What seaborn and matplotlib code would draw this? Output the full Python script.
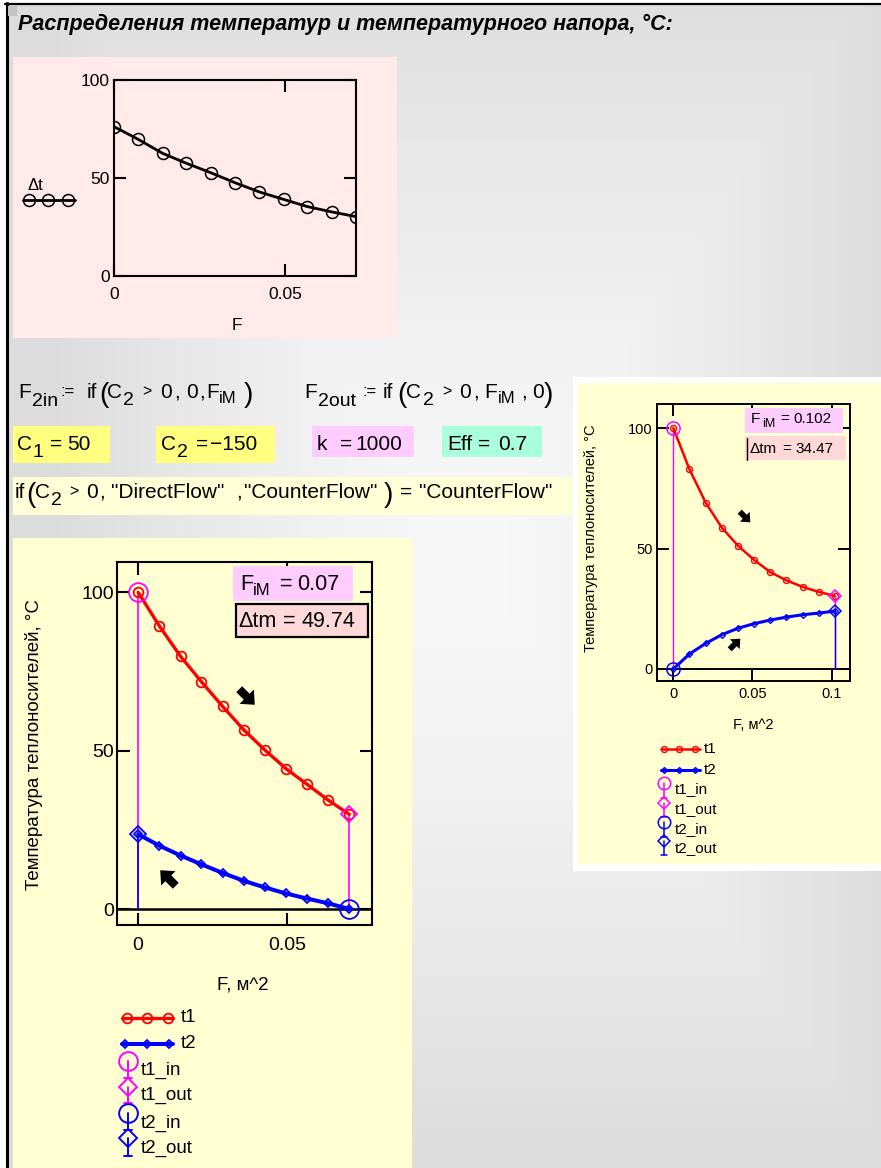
"""
Распределения температур и температурного напора - копия листа Mathcad.
Три графика: dt(F), противоток (основной) и прямоток (малый справа).
"""
import numpy as np
import matplotlib
matplotlib.use("Agg")
import matplotlib.pyplot as plt
from matplotlib.patches import Rectangle, Polygon
import seaborn as sns

W, H = 881, 1168

# ---------------- данные ----------------
F_top = [0, 0.0071, 0.0142, 0.0212, 0.0283, 0.0354, 0.0425, 0.0496, 0.0566, 0.0637, 0.0708]
dt_top = [76.2, 69.7, 62.6, 57.5, 52.7, 47.6, 42.9, 39.1, 35.4, 32.7, 30.3]

F_main = [0, 0.0071, 0.0142, 0.0212, 0.0283, 0.0354, 0.0425, 0.0496, 0.0566, 0.0637, 0.0708]
t1_main = [100, 89.4, 79.8, 71.8, 64.0, 56.6, 50.2, 44.3, 39.4, 34.4, 29.9]
t2_main = [23.6, 20.0, 16.9, 14.1, 11.4, 8.9, 6.8, 4.9, 3.3, 1.8, 0.0]
FiM_main = 0.0708
dtm_main = 49.74

F_right = [0, 0.0102, 0.0204, 0.0306, 0.0408, 0.051, 0.0612, 0.0714, 0.0816, 0.0918, 0.102]
t1_right = [100, 82.9, 69.1, 58.7, 51.2, 45.3, 40.2, 36.8, 34.1, 32.0, 30.3]
t2_right = [0, 6.2, 10.6, 14.2, 16.9, 18.8, 20.3, 21.5, 22.5, 23.2, 24.0]
FiM_right = 0.102
dtm_right = 34.47

y_ticks = [0, 50, 100]
y_labels = ["0", "50", "100"]
x_ticks_top = [0, 0.05]
x_labels_top = ["0", "0.05"]
x_ticks_right = [0, 0.05, 0.1]
x_labels_right = ["0", "0.05", "0.1"]

MAG = "#ff00ff"

sns.set_style("ticks", {"axes.edgecolor": "black", "xtick.color": "black",
                        "ytick.color": "black", "text.color": "black",
                        "axes.labelcolor": "black"})
plt.rcParams["font.family"] = ["Liberation Sans", "DejaVu Sans"]

fig = plt.figure(figsize=(W / 100, H / 100), dpi=100)


def rect_px(l, t, r, b):
    return [l / W, 1 - b / H, (r - l) / W, (b - t) / H]


def pixel_axes(z):
    a = fig.add_axes([0, 0, 1, 1], zorder=z)
    a.set_xlim(0, W)
    a.set_ylim(H, 0)
    a.axis("off")
    return a


def put(ax, pieces, **kw):
    # куски формулы: (x, базовая линия, текст, кегль)
    for x, y, s, size in pieces:
        ax.text(x, y, s, fontsize=size, ha="left", va="baseline", **kw)


def box(ax, l, t, r, b, color, **kw):
    ax.add_patch(Rectangle((l, t), r - l, b - t, facecolor=color, **kw))


def heavy_arrow(ax, cx, cy, ux, uy, L):
    n = np.hypot(ux, uy)
    ux, uy = ux / n, uy / n
    vx, vy = -uy, ux
    shape = [(-0.5, -0.19), (-0.02, -0.19), (-0.02, -0.46), (0.5, 0),
             (-0.02, 0.46), (-0.02, 0.19), (-0.5, 0.19)]
    pts = [(cx + L * (a * ux + b * vx), cy + L * (a * uy + b * vy)) for a, b in shape]
    ax.add_patch(Polygon(pts, closed=True, color="black", lw=0))


def key_line(ax, x0, x1, y, xs, color, marker, ms, lw, mew):
    ax.plot([x0, x1], [y, y], color=color, lw=lw)
    ax.plot(xs, [y] * len(xs), ls="none", marker=marker, ms=ms,
            mfc="none", mec=color, mew=mew)


def key_stem(ax, x, y_mark, y_end, color, marker, ms, lw, cap):
    ax.plot([x, x], [y_mark, y_end], color=color, lw=lw)
    ax.plot([x - cap, x + cap], [y_end, y_end], color=color, lw=lw)
    ax.plot([x], [y_mark], marker=marker, ms=ms, mfc="none", mec=color, mew=lw)


def mathcad_axes(ax, xlim, ylim, xt, xl, fs, tl, lw, xpad, ypad):
    ax.set_facecolor("none")
    ax.set_xlim(xlim)
    ax.set_ylim(ylim)
    ax.set_xticks(xt, xl)
    ax.set_yticks(y_ticks, y_labels)
    ax.tick_params(direction="in", length=tl, width=lw, top=True, right=True,
                   labelsize=fs, colors="black")
    ax.tick_params(axis="x", pad=xpad)
    ax.tick_params(axis="y", pad=ypad)
    for sp in ax.spines.values():
        sp.set_visible(True)
        sp.set_linewidth(lw)
        sp.set_color("black")


def heat_chart(ax, F, t1, t2, FiM, counter, s):
    f2_in, f2_out = (FiM, 0) if counter else (0, FiM)
    t2_in, t2_out = (t2[-1], t2[0]) if counter else (t2[0], t2[-1])
    ax.axhline(0, color="black", lw=s["axis"], zorder=1)
    stems = [(0, t1[0], MAG, "o"), (FiM, t1[-1], MAG, "D"),
             (f2_in, t2_in, "blue", "o"), (f2_out, t2_out, "blue", "D")]
    for x, y, c, m in stems:
        ax.vlines(x, 0, y, color=c, lw=s["stem"], zorder=2)
    sns.lineplot(x=F, y=t1, ax=ax, color="red", linewidth=s["lw1"], marker="o",
                 markersize=s["ms1"], markerfacecolor="none", markeredgecolor="red",
                 markeredgewidth=s["mew"], zorder=3)
    sns.lineplot(x=F, y=t2, ax=ax, color="blue", linewidth=s["lw2"], marker="D",
                 markersize=s["ms2"], markerfacecolor="none", markeredgecolor="blue",
                 markeredgewidth=s["mew"], zorder=3)
    for x, y, c, m in stems:
        ax.plot([x], [y], marker=m, ms=s["big_o"] if m == "o" else s["big_d"],
                mfc="none", mec=c, mew=s["stem_mew"], zorder=4, clip_on=False)


# ---------------- фон листа ----------------
bg = pixel_axes(0)
yy, xx = np.mgrid[0:H, 0:W]
d = np.maximum(np.abs(xx - 470) / 420, np.abs(yy - 560) / 600)
grad = 248 - 28 * np.clip(d, 0, 1) ** 1.4
bg.imshow(np.dstack([grad] * 3).astype(np.uint8), extent=(0, W, H, 0),
          interpolation="bilinear", zorder=0)
box(bg, 0, 0, W, 3, "white", zorder=1)
box(bg, 0, 0, 5, H, "white", zorder=1)
bg.plot([6.5, 6.5], [3, H], color="black", lw=2.2, zorder=2)
bg.plot([5, W], [4, 4], color="black", lw=1.6, zorder=2)
box(bg, 8, 6, 17, 16, "#c4c4c4", lw=0, zorder=2)

bg.text(18, 30, "Распределения температур и температурного напора, °C:",
        fontsize=15.5, fontweight="bold", fontstyle="italic", va="baseline", zorder=3)

# панели графиков
box(bg, 13, 57, 397, 338, "#ffe9e9", lw=0, zorder=1)
box(bg, 13, 538, 412, H, "#ffffd2", lw=0, zorder=1)
box(bg, 573, 377, W, 871, "white", lw=0, zorder=1)
box(bg, 578, 383, W, 864, "#ffffd2", lw=0, zorder=1)

# ---------------- формулы ----------------
box(bg, 13, 426, 110, 463, "#ffff80", lw=0, zorder=1)
box(bg, 156, 426, 275, 463, "#ffff80", lw=0, zorder=1)
box(bg, 312, 426, 414, 457, "#ffccff", lw=0, zorder=1)
box(bg, 442, 426, 542, 457, "#aaffdd", lw=0, zorder=1)
box(bg, 13, 477, 572, 515, "#ffffd8", lw=0, zorder=1)

fs = 15
row1 = [(18, 398, "F", fs), (32, 406, "2in", 14), (61, 396, ":=", 12), (87, 398, "if", fs),
        (99, 402, "(", 20), (107, 398, "C", fs), (123, 405, "2", 14), (142, 396, ">", 11.5),
        (160, 398, "0", fs), (174, 398, ",", fs), (186, 398, "0", fs), (199, 398, ",", fs),
        (206, 398, "F", fs), (219, 403, "iM", 12), (244, 402, ")", 20),
        (304, 398, "F", fs), (318, 406, "2out", 14), (362, 396, ":=", 12), (383, 398, "if", fs),
        (397, 402, "(", 20), (406, 398, "C", fs), (423, 405, "2", 14), (442, 396, ">", 11.5),
        (459, 398, "0", fs), (473, 398, ",", fs), (484, 398, "F", fs), (498, 403, "iM", 12),
        (521, 398, ",", fs), (532, 398, "0", fs), (544, 402, ")", 20)]
row2 = [(17, 450, "C", fs), (33, 457, "1", 14), (50, 450, "=", fs), (67, 450, "50", fs),
        (161, 450, "C", fs), (177, 457, "2", 14), (196, 450, "=", fs), (210, 450, "\u2212150", fs),
        (317, 450, "k", fs), (340, 450, "=", fs), (355, 450, "1000", fs),
        (447, 450, "Eff", fs), (478, 450, "=", fs), (498, 450, "0.7", fs)]
row3 = [(15, 498, "if", fs), (26, 502, "(", 20), (35, 498, "C", fs), (51, 505, "2", 14),
        (69, 496, ">", 11.5), (86, 498, "0", fs), (99, 498, ",", fs),
        (111, 498, '"DirectFlow"', fs), (236, 498, ",", fs), (244, 498, '"CounterFlow"', fs),
        (384, 502, ")", 20), (400, 498, "=", fs), (419, 498, '"CounterFlow"', fs)]
put(bg, row1 + row2 + row3, zorder=3)

# ---------------- верхний график: dt(F) ----------------
ax_top = fig.add_axes(rect_px(114, 80, 356, 276))
mathcad_axes(ax_top, (0, 0.0708), (0, 100), x_ticks_top, x_labels_top,
             12.5, 8.5, 1.5, 8, 3)
sns.lineplot(x=F_top, y=dt_top, ax=ax_top, color="black", linewidth=2,
             marker="o", markersize=8.6, markerfacecolor="none",
             markeredgecolor="black", markeredgewidth=1.1)
ax_top.set_xlabel("F", fontsize=12.5)
ax_top.set_ylabel("")
ax_top.xaxis.set_label_coords(0.508, -0.214)

# ---------------- основной график: противоток ----------------
ax_main = fig.add_axes(rect_px(117, 562, 372, 925))
mathcad_axes(ax_main, (-0.0071, 0.0784), (-5.05, 109.6), x_ticks_top, x_labels_top,
             14, 9, 1.5, 8.5, 2)
heat_chart(ax_main, F_main, t1_main, t2_main, FiM_main, True,
           dict(axis=1.8, lw1=2.4, lw2=2.9, ms1=7, ms2=4, mew=1.3, stem=1.2,
                big_o=13.5, big_d=8.5, stem_mew=1.3))
ax_main.set_xlabel("F, м^2", fontsize=13.5)
ax_main.set_ylabel("Температура теплоносителей, °C", fontsize=13.5)
ax_main.xaxis.set_label_coords(0.494, -0.143)
ax_main.yaxis.set_label_coords(-0.29, 0.496)

# ---------------- правый график: прямоток ----------------
ax_r = fig.add_axes(rect_px(657, 404, 850, 681))
mathcad_axes(ax_r, (-0.0103, 0.1116), (-5, 110), x_ticks_right, x_labels_right,
             10.5, 8.5, 1.4, 4.5, 3)
heat_chart(ax_r, F_right, t1_right, t2_right, FiM_right, False,
           dict(axis=1.4, lw1=1.8, lw2=2.2, ms1=4.3, ms2=3, mew=1.0, stem=1.0,
                big_o=9.5, big_d=6, stem_mew=1.1))
ax_r.set_xlabel("F, м^2", fontsize=10.5)
ax_r.set_ylabel("Температура теплоносителей, °C", fontsize=10.5)
ax_r.xaxis.set_label_coords(0.497, -0.134)
ax_r.yaxis.set_label_coords(-0.306, 0.516)

# ---------------- надписи, стрелки, легенды ----------------
ov = pixel_axes(2)

# легенда верхнего графика
ov.text(27, 190, "\u0394t", fontsize=12, va="baseline")
key_line(ov, 23, 75, 200, [29, 48, 68], "black", "o", 8.6, 2, 1.1)

# основной график: значения
box(ov, 233, 566, 353, 601, "#ffccff", lw=0)
box(ov, 236, 604, 368, 637, "#ffd9d9", edgecolor="black", lw=1.6)
put(ov, [(240, 590, "F", 15.5), (253, 595, "iM", 12), (280, 590, "=", 15.5),
         (297, 590, "%.2f" % FiM_main, 15.5),
         (238, 627, "\u0394tm", 15.5), (283, 627, "=", 15.5),
         (302, 627, "%.2f" % dtm_main, 15.5)])
heavy_arrow(ov, 247, 697, 1, 1, 22)
heavy_arrow(ov, 168, 878, -1, -1, 22)

key_line(ov, 122, 173, 1018, [127, 147, 168], "red", "o", 7, 2.4, 1.3)
key_line(ov, 122, 173, 1044, [125, 147, 169], "blue", "D", 4, 2.9, 1.3)
key_stem(ov, 128, 1061, 1078, MAG, "o", 13.5, 1.4, 4)
key_stem(ov, 128, 1087, 1103, MAG, "D", 9, 1.4, 4)
key_stem(ov, 128, 1113, 1130, "blue", "o", 13.5, 1.4, 4)
key_stem(ov, 128, 1138, 1156, "blue", "D", 9, 1.4, 4)
for y, s in [(1018, "t1"), (1044, "t2")]:
    ov.text(181, y, s, fontsize=13.5, va="center")
for y, s in [(1070, "t1_in"), (1095, "t1_out"), (1123, "t2_in"), (1148, "t2_out")]:
    ov.text(141, y, s, fontsize=13.5, va="center")

# правый график: значения
box(ov, 745, 408, 843, 433, "#ffccff", lw=0)
box(ov, 745, 436, 846, 460, "#ffd9d9", lw=0)
ov.plot([747, 747], [438, 460], color="black", lw=1)
put(ov, [(751, 423, "F", 11), (762, 427, "iM", 9), (780, 423, "=", 11),
         (793, 423, "%.3f" % FiM_right, 11),
         (749, 453, "\u0394tm", 11), (782, 453, "=", 11),
         (795, 453, "%.2f" % dtm_right, 11)])
heavy_arrow(ov, 745, 517, 1, 1, 15)
heavy_arrow(ov, 735, 644, 1, -1, 15)

key_line(ov, 661, 700, 749, [664, 679, 695], "red", "o", 4.3, 1.8, 1)
key_line(ov, 661, 700, 770, [664, 679, 695], "blue", "D", 3, 2.2, 1)
key_stem(ov, 664, 783, 798, MAG, "o", 9, 1.1, 3)
key_stem(ov, 664, 803, 817, MAG, "D", 6.5, 1.1, 3)
key_stem(ov, 664, 822, 837, "blue", "o", 9, 1.1, 3)
key_stem(ov, 664, 841, 855, "blue", "D", 6.5, 1.1, 3)
for y, s in [(749, "t1"), (770, "t2")]:
    ov.text(704, y, s, fontsize=11, va="center")
for y, s in [(789, "t1_in"), (809, "t1_out"), (829, "t2_in"), (848, "t2_out")]:
    ov.text(675, y, s, fontsize=11, va="center")

fig.savefig("out.png", dpi=100)
